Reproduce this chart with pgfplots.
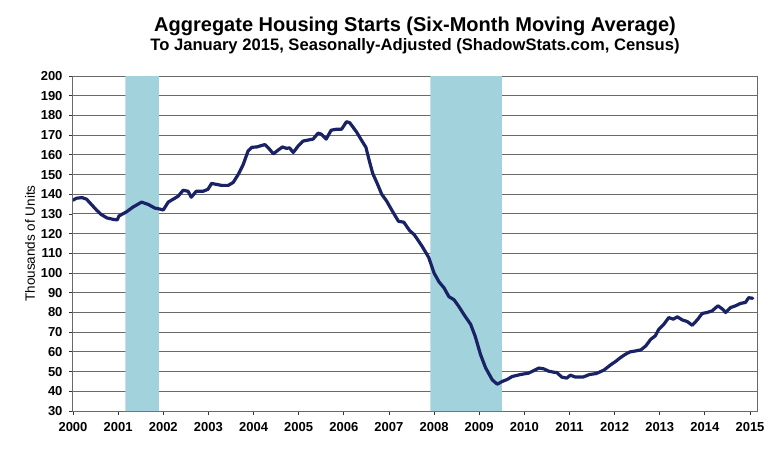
\documentclass[border=0pt]{standalone}
\usepackage{pgfplots}
\pgfplotsset{compat=1.18}
\usepackage{fontspec}
\setmainfont{Liberation Sans}
\definecolor{starts}{RGB}{24,34,100}
\definecolor{recess}{RGB}{162,210,220}
\definecolor{gridc}{RGB}{105,105,105}
\begin{document}
\begin{tikzpicture}
\useasboundingbox (-73pt,-48pt) rectangle (708pt,411pt);
\begin{axis}[
  scale only axis,
  width=684pt, height=335pt,
  xmin=2000, xmax=2015.155,
  ymin=30, ymax=200,
  xtick={2000,2001,...,2015},
  ytick={30,40,...,200},
  /pgf/number format/1000 sep={},
  /pgf/number format/assume math mode=true,
  ticklabel style={font=\fontsize{13}{13}\selectfont\bfseries},
  xticklabel style={yshift=-4pt},
  yticklabel style={xshift=-3pt},
  tick align=outside,
  major tick length=4pt,
  tick style={black!80, line width=0.8pt},
  ymajorgrids,
  grid style={gridc, line width=1pt},
  axis line style={gridc, line width=1pt},
  xtick pos=bottom, ytick pos=left,
  ylabel={Thousands of Units},
  ylabel style={font=\fontsize{13.5}{13.5}\selectfont, yshift=-1pt},
  title style={align=center, yshift=13pt},
  title={{\fontsize{20}{22}\selectfont\bfseries Aggregate Housing Starts (Six-Month Moving Average)}\\[1pt]
         {\fontsize{16.6}{18}\selectfont\bfseries To January 2015, Seasonally-Adjusted (ShadowStats.com, Census)}},
]
\addplot[draw=none, fill=recess] coordinates {(2001.16,30) (2001.16,200) (2001.90,200) (2001.90,30)} \closedcycle;
\addplot[draw=none, fill=recess] coordinates {(2007.92,30) (2007.92,200) (2009.50,200) (2009.50,30)} \closedcycle;
\addplot[starts, line width=3.2pt, line join=round, line cap=round] coordinates {
(2000.00,137) (2000.08,138) (2000.20,138.3) (2000.30,137.5) (2000.40,135)
(2000.52,132) (2000.62,129.8) (2000.75,128) (2000.90,127.2) (2000.98,127)
(2001.02,129) (2001.18,131) (2001.33,133.5) (2001.52,136) (2001.67,134.8)
(2001.81,133) (2001.92,132.5) (2002.00,132) (2002.11,136) (2002.22,137.5)
(2002.33,139) (2002.44,142) (2002.55,141.5) (2002.62,138.5) (2002.73,141.5)
(2002.88,141.5) (2002.99,142.5) (2003.07,145.5) (2003.18,145) (2003.29,144.5)
(2003.44,144.5) (2003.55,146) (2003.66,150) (2003.77,155) (2003.88,162)
(2003.96,163.8) (2004.07,164) (2004.25,165.2) (2004.33,163.5) (2004.44,160.5)
(2004.55,162.5) (2004.64,164) (2004.73,163.3) (2004.80,163.5) (2004.88,161.2)
(2004.99,164.5) (2005.10,167) (2005.21,167.5) (2005.32,168) (2005.43,171)
(2005.50,170.5) (2005.61,168) (2005.72,172.5) (2005.84,173) (2005.95,173)
(2006.06,176.8) (2006.13,176.3) (2006.28,171.7) (2006.39,167.5) (2006.49,163.8)
(2006.56,157.4) (2006.64,150.6) (2006.74,145.5) (2006.84,140) (2006.95,136.5)
(2007.08,131.3) (2007.21,126.3) (2007.33,125.8) (2007.46,121.5) (2007.56,119.5)
(2007.65,116.5) (2007.75,113) (2007.88,108) (2008.00,100) (2008.11,95.5)
(2008.22,92.5) (2008.33,88) (2008.44,86.5) (2008.55,83) (2008.66,79)
(2008.81,74) (2008.91,68) (2009.03,58.6) (2009.14,52) (2009.29,45.8)
(2009.40,43.6) (2009.51,45) (2009.62,46) (2009.73,47.5) (2009.91,48.5)
(2010.09,49.2) (2010.21,50.5) (2010.32,51.8) (2010.43,51.4) (2010.54,50.2)
(2010.65,49.7) (2010.72,49.5) (2010.83,47.2) (2010.94,46.7) (2011.02,48.2)
(2011.12,47.3) (2011.31,47.3) (2011.44,48.5) (2011.59,49.0) (2011.76,50.7)
(2011.91,53.4) (2012.02,55.1) (2012.13,57.1) (2012.24,58.8) (2012.34,60)
(2012.47,60.5) (2012.58,61) (2012.69,63) (2012.80,66.4) (2012.90,68.1)
(2012.98,71.5) (2013.09,74) (2013.20,77.4) (2013.30,76.6) (2013.39,77.8)
(2013.50,76.2) (2013.61,75.4) (2013.72,73.5) (2013.83,76.2) (2013.94,79.5)
(2014.05,80) (2014.16,80.8) (2014.29,83.4) (2014.39,81.7) (2014.46,80)
(2014.57,82.5) (2014.68,83.4) (2014.79,84.6) (2014.90,85.1) (2014.97,87.5)
(2015.06,87.2)
};
\end{axis}
\end{tikzpicture}
\end{document}
